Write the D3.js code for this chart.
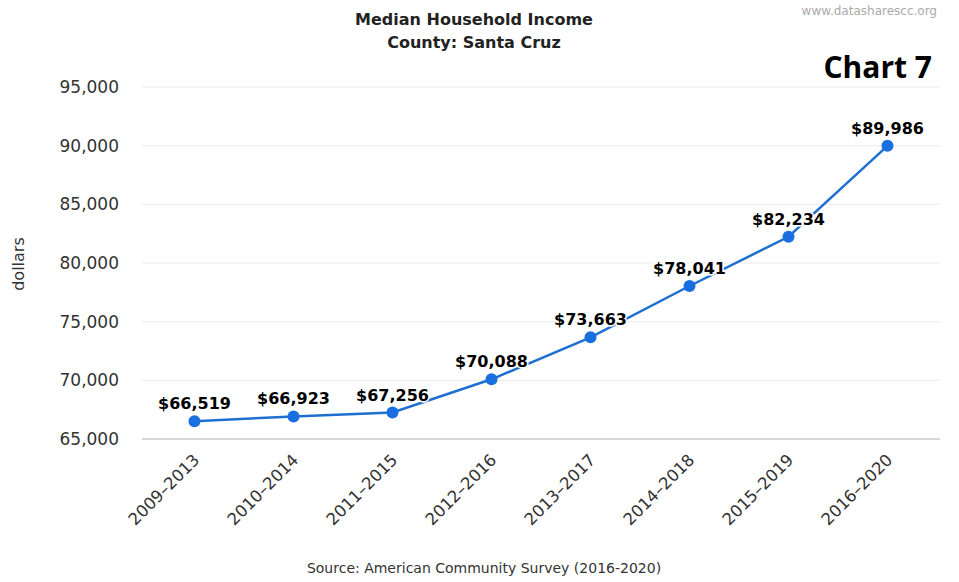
<!DOCTYPE html>
<html><head><meta charset="utf-8">
<script src="https://cdn.jsdelivr.net/npm/d3@7"></script>
<style>body{margin:0;background:#fff}svg{display:block}</style>
</head><body><svg id="c" width="959" height="582"></svg>
<script>
const categories = ["2009–2013","2010–2014","2011–2015","2012–2016","2013–2017","2014–2018","2015–2019","2016–2020"];
const values = [66519,66923,67256,70088,73663,78041,82234,89986];
const yTicks = [65000,70000,75000,80000,85000,90000,95000];

const svg = d3.select("#c");
const font = "'DejaVu Sans', sans-serif";
const margin = {left:145, right:937, top:87, bottom:439};

const x = d3.scaleBand().domain(categories).range([margin.left, margin.right]);
const y = d3.scaleLinear().domain([65000,95000]).range([margin.bottom, margin.top]);

// gridlines
svg.append("g").selectAll("line").data(yTicks).join("line")
  .attr("x1", margin.left-3).attr("x2", margin.right+3)
  .attr("y1", d=>y(d)).attr("y2", d=>y(d))
  .attr("stroke", d=> d===65000 ? "#c8c8c8" : "#ececec").attr("stroke-width", d=>d===65000?1.5:1);

// y axis labels
const yAxis = d3.axisLeft(y).tickValues(yTicks).tickFormat(d3.format(",")).tickSize(0).tickPadding(0);
const gy = svg.append("g").attr("transform", `translate(${119},0)`).call(yAxis);
gy.select(".domain").remove();
gy.selectAll("text").attr("font-family", font).attr("font-size", 17).attr("fill", "#333");

// x axis labels
const xAxis = d3.axisBottom(x).tickSize(0).tickPadding(0);
const gx = svg.append("g").attr("transform", `translate(0,${margin.bottom})`).call(xAxis);
gx.select(".domain").remove();
gx.selectAll("text").attr("font-family", font).attr("font-size", 16.5).attr("fill", "#333")
  .attr("text-anchor","end").attr("dy", null)
  .attr("transform", "translate(6,22) rotate(-45)");

// line
const line = d3.line().x((d,i)=>x(categories[i])+x.bandwidth()/2).y(d=>y(d));
svg.append("path").datum(values).attr("d", line).attr("fill","none")
  .attr("stroke","#1f6fd1").attr("stroke-width",2.5);
svg.append("g").selectAll("circle").data(values).join("circle")
  .attr("cx",(d,i)=>x(categories[i])+x.bandwidth()/2).attr("cy",d=>y(d)).attr("r",6)
  .attr("fill","#1a6fe0");

// data labels
const fmt = d3.format("$,");
svg.append("g").selectAll("text").data(values).join("text")
  .attr("x",(d,i)=>x(categories[i])+x.bandwidth()/2).attr("y",d=>y(d)-12)
  .attr("text-anchor","middle").attr("font-family",font).attr("font-size",16).attr("font-weight","bold")
  .attr("fill","#000").attr("stroke","#fff").attr("stroke-width",3).attr("paint-order","stroke")
  .text(d=>fmt(d));

// axis title
svg.append("text").attr("transform","translate(24,264) rotate(-90)").attr("text-anchor","middle")
  .attr("font-family",font).attr("font-size",16).attr("fill","#333").text("dollars");

// titles
svg.append("text").attr("x",474).attr("y",25).attr("text-anchor","middle")
  .attr("font-family",font).attr("font-size",16).attr("font-weight","bold").attr("fill","#222")
  .text("Median Household Income");
svg.append("text").attr("x",474).attr("y",48).attr("text-anchor","middle")
  .attr("font-family",font).attr("font-size",16).attr("font-weight","bold").attr("fill","#222")
  .text("County: Santa Cruz");

svg.append("text").attr("x",937).attr("y",15).attr("text-anchor","end")
  .attr("font-family",font).attr("font-size",12).attr("fill","#aaa").text("www.datasharescc.org");
svg.append("text").attr("x",932).attr("y",78).attr("text-anchor","end")
  .attr("font-family","'Open Sans', sans-serif").attr("font-size",30).attr("font-weight","bold").attr("fill","#000").text("Chart 7");

svg.append("text").attr("x",484).attr("y",573).attr("text-anchor","middle")
  .attr("font-family",font).attr("font-size",14).attr("fill","#333")
  .text("Source: American Community Survey (2016-2020)");
</script></body></html>
